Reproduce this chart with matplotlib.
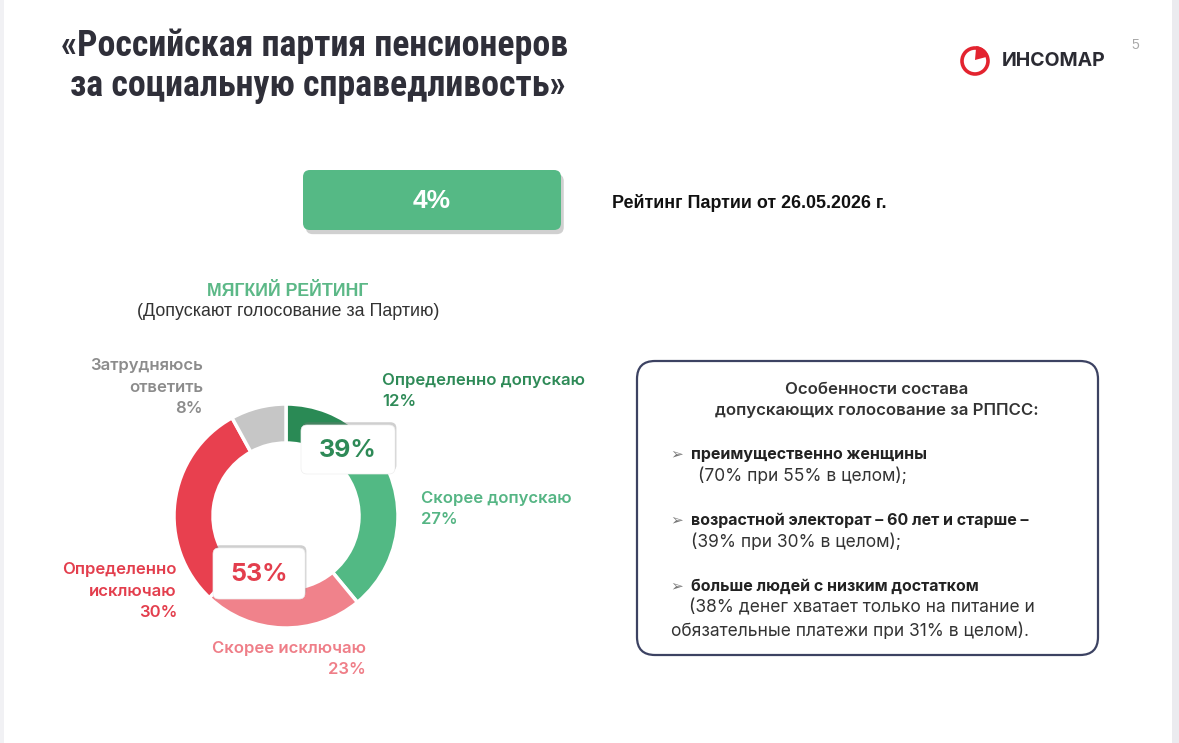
import matplotlib
matplotlib.use('Agg')
import matplotlib.pyplot as plt
from matplotlib.patches import FancyBboxPatch, Rectangle, Circle, Wedge
import matplotlib.patheffects as pe

W, H = 1179, 743

# donut data
CATEGORIES = ["Определенно допускаю", "Скорее допускаю", "Скорее исключаю",
              "Определенно исключаю", "Затрудняюсь ответить"]
SHARES = [12, 27, 23, 30, 8]
COLORS = ["#2a8a55", "#52b984", "#f0828b", "#e8404f", "#c6c6c6"]
LABEL_COLORS = ["#2e8a57", "#55b584", "#ef7e88", "#e33e4d", "#8c8c8c"]
RATING = 4
ALLOW_TOTAL = SHARES[0] + SHARES[1]
DENY_TOTAL = SHARES[2] + SHARES[3]

BULLETS = ["преимущественно женщины",
           "возрастной электорат – 60 лет и старше –",
           "больше людей с низким достатком"]
BULLET_NOTES = [["(70% при 55% в целом);"],
                ["(39% при 30% в целом);"],
                ["(38% денег хватает только на питание и",
                 "обязательные платежи при 31% в целом)."]]

TITLE_FONT = ['Roboto Condensed', 'DejaVu Sans']
SANS = ['Liberation Sans', 'DejaVu Sans']
INTER = ['Inter', 'DejaVu Sans']

fig = plt.figure(figsize=(W / 100, H / 100), dpi=100, facecolor="white")

# donut axes (pixel centre 286,516)
cx, cy, box = 286, 516, 240
dax = fig.add_axes([(cx - box / 2) / W, (H - cy - box / 2) / H, box / W, box / H])
dax.pie(SHARES, colors=COLORS, startangle=90, counterclock=False,
        radius=112 / 120, wedgeprops=dict(width=39 / 120, edgecolor="white", linewidth=2.5))
dax.set_xlim(-1, 1)
dax.set_ylim(-1, 1)
dax.set_aspect("equal")
dax.axis("off")

# overlay axes in pixel coordinates
ax = fig.add_axes([0, 0, 1, 1], zorder=5)
ax.set_xlim(0, W)
ax.set_ylim(H, 0)
ax.axis("off")
ax.patch.set_alpha(0)

# page edges
ax.add_patch(Rectangle((1172, 0), 7, H, color="#ebebef", lw=0))
ax.add_patch(Rectangle((0, 0), 4, H, color="#f1f1f4", lw=0))

# title
ax.text(315, 46, "«Российская партия пенсионеров", family=TITLE_FONT, fontweight="bold",
        fontsize=25.8, color="#2f2f39", ha="center", va="center")
ax.text(318, 86, "за социальную справедливость»", family=TITLE_FONT, fontweight="bold",
        fontsize=25.8, color="#2f2f39", ha="center", va="center")

# logo
ax.add_patch(Circle((975, 61), 13, fill=False, ec="#e3232f", lw=2.6))
ax.add_patch(Wedge((975, 60), 14, 275, 345, color="#e3232f", lw=0))
ax.text(1002, 61, "ИНСОМАР", family=INTER, fontweight="bold",
        fontsize=14, color="#2b2b33", ha="left", va="center")
ax.text(1135, 45, "5", family=SANS, fontsize=10, color="#a8a8a8", ha="center", va="center")

# rating box
shadow = [pe.withSimplePatchShadow(offset=(2, -3), shadow_rgbFace="#666666", alpha=0.3)]
rbox = FancyBboxPatch((303, 170), 258, 60, boxstyle="round,pad=0,rounding_size=7",
                      fc="#55b985", ec="none", path_effects=shadow)
ax.add_patch(rbox)
ax.text(432, 201, f"{RATING}%", family=SANS, fontweight="bold", fontsize=19,
        color="white", ha="center", va="center")
ax.text(612, 203, "Рейтинг Партии от 26.05.2026 г.", family=SANS, fontweight="bold",
        fontsize=12.9, color="#111111", ha="left", va="center")

# donut heading
ax.text(288, 291, "МЯГКИЙ РЕЙТИНГ", family=SANS, fontweight="bold", fontsize=12.8,
        color="#5cb887", ha="center", va="center")
ax.text(288, 311, "(Допускают голосование за Партию)", family=SANS, fontsize=12.9,
        color="#333333", ha="center", va="center")

# donut labels
lab = dict(family=INTER, fontweight="semibold", fontsize=12, linespacing=1.55)
ax.text(382, 391, f"{CATEGORIES[0]}\n{SHARES[0]}%", color=LABEL_COLORS[0],
        ha="left", va="center", **lab)
ax.text(421, 509, f"{CATEGORIES[1]}\n{SHARES[1]}%", color=LABEL_COLORS[1],
        ha="left", va="center", **lab)
ax.text(366, 659, f"{CATEGORIES[2]}\n{SHARES[2]}%", color=LABEL_COLORS[2],
        ha="right", va="center", multialignment="right", **lab)
ax.text(177, 591, "Определенно\nисключаю\n" + f"{SHARES[3]}%", color=LABEL_COLORS[3],
        ha="right", va="center", multialignment="right", **lab)
ax.text(203, 387, "Затрудняюсь\nответить\n" + f"{SHARES[4]}%", color=LABEL_COLORS[4],
        ha="right", va="center", multialignment="right", **lab)

# total boxes
for (x0, y0, w, h), val, col in [((301, 425, 94, 49), ALLOW_TOTAL, LABEL_COLORS[0]),
                                 ((213, 548, 92, 51), DENY_TOTAL, LABEL_COLORS[3])]:
    b = FancyBboxPatch((x0, y0), w, h, boxstyle="round,pad=0,rounding_size=6",
                       fc="white", ec="#eeeeee", lw=0.5,
                       path_effects=[pe.withSimplePatchShadow(offset=(1, 2), shadow_rgbFace="#777777", alpha=0.35)])
    ax.add_patch(b)
    ax.text(x0 + w / 2, y0 + h / 2 + 1, f"{val}%", family=INTER, fontweight="bold",
            fontsize=18, color=col, ha="center", va="center")

# info box
ibox = FancyBboxPatch((637, 361), 461, 294, boxstyle="round,pad=0,rounding_size=18",
                      fc="white", ec="#3c4262", lw=1.6)
ax.add_patch(ibox)
ax.text(877, 389, "Особенности состава", family=INTER, fontweight="semibold",
        fontsize=12.1, color="#333333", ha="center", va="center")
ax.text(877, 411, "допускающих голосование за РППСС:", family=INTER, fontweight="semibold",
        fontsize=12.1, color="#333333", ha="center", va="center")

bullet_y = [454, 520, 586]
note_x = [[698], [691], [689, 671]]
for by, head, notes, nx in zip(bullet_y, BULLETS, BULLET_NOTES, note_x):
    ax.text(677, by, "➢", family=['DejaVu Sans'], fontsize=11, color="#777777",
            ha="center", va="center")
    ax.text(691, by, head, family=INTER, fontweight="bold", fontsize=11.5,
            color="#222222", ha="left", va="center")
    for i, (line, x) in enumerate(zip(notes, nx)):
        ax.text(x, by + 22 + 23 * i, line, family=INTER, fontsize=12.5,
                color="#333333", ha="left", va="center")

fig.savefig("out.png", dpi=100, facecolor="white")
